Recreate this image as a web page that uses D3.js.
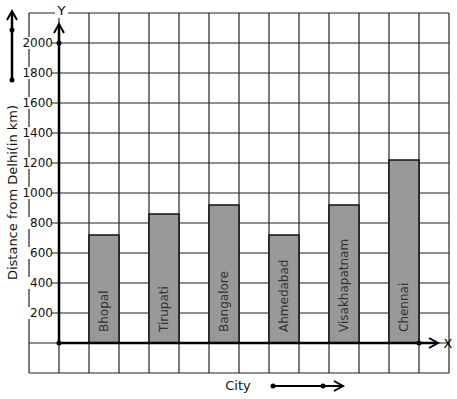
<!DOCTYPE html>
<html>
<head>
<meta charset="utf-8">
<script src="https://cdn.jsdelivr.net/npm/d3@7"></script>
<style>
  html, body { margin: 0; padding: 0; background: #fff; }
  svg { display: block; font-family: "DejaVu Sans", sans-serif; }
</style>
</head>
<body>
<svg id="chart" width="457" height="399"></svg>
<script>
const cities = ['Bhopal', 'Tirupati', 'Bangalore', 'Ahmedabad', 'Visakhapatnam', 'Chennai'];
const distances = [720, 860, 920, 720, 920, 1220];
const yTicks = [200, 400, 600, 800, 1000, 1200, 1400, 1600, 1800, 2000];

const svg = d3.select('#chart');
const gridLeft = 29, gridRight = 449, gridTop = 13, gridBottom = 373;
const axisWidth = 2.5;

// one grid cell = 30px; y axis sits one cell in from the left
const col = d3.scaleLinear().domain([0, 14]).range([gridLeft, gridRight]);
const y = d3.scaleLinear().domain([0, 2000]).range([343, 43]);
const x = d3.scaleBand().domain(cities).range([col(2), col(13)])
  .paddingInner(0.5).paddingOuter(0);

const x0 = col(1), y0 = y(0);

// grid
const grid = svg.append('g').attr('stroke', '#222').attr('stroke-width', 1.2);
grid.selectAll('line.v').data(d3.range(0, 15)).join('line')
  .attr('class', 'v')
  .attr('x1', d => col(d)).attr('x2', d => col(d))
  .attr('y1', gridTop).attr('y2', gridBottom);
grid.selectAll('line.h').data(d3.range(-200, 2201, 200)).join('line')
  .attr('class', 'h')
  .attr('x1', gridLeft).attr('x2', gridRight)
  .attr('y1', d => y(d)).attr('y2', d => y(d));

// bars
const bars = svg.append('g');
bars.selectAll('rect').data(cities).join('rect')
  .attr('x', d => x(d))
  .attr('y', (d, i) => y(distances[i]))
  .attr('width', x.bandwidth())
  .attr('height', (d, i) => y0 - y(distances[i]))
  .attr('fill', '#999')
  .attr('stroke', '#111')
  .attr('stroke-width', 1.5);

bars.selectAll('text').data(cities).join('text')
  .attr('transform', d => `translate(${x(d) + x.bandwidth() / 2 + 4},${y0 - 11}) rotate(-90)`)
  .attr('font-size', 12)
  .attr('fill', '#333')
  .text(d => d);

// y tick labels with white background
const tickG = svg.append('g');
const tick = tickG.selectAll('g').data(yTicks).join('g')
  .attr('transform', d => `translate(53,${y(d)})`);
tick.append('rect')
  .attr('x', -31).attr('y', -6).attr('width', 30).attr('height', 12)
  .attr('fill', '#fff');
tick.append('text')
  .attr('text-anchor', 'end')
  .attr('dy', '0.36em')
  .attr('font-size', 12)
  .attr('fill', '#111')
  .text(d => d);

// axes
function chevron(g, px, py, dir, w, h) {
  const pts = dir === 'up'
    ? [[px - w, py + h], [px, py], [px + w, py + h]]
    : [[px - h, py - w], [px, py], [px - h, py + w]];
  g.append('path')
    .attr('d', d3.line()(pts))
    .attr('fill', 'none')
    .attr('stroke', '#000')
    .attr('stroke-width', 2);
}

const axes = svg.append('g');
axes.append('line')
  .attr('x1', x0).attr('x2', x0).attr('y1', y0).attr('y2', 25)
  .attr('stroke', '#000').attr('stroke-width', axisWidth);
chevron(axes, x0, 24, 'up', 5, 9);
axes.append('line')
  .attr('x1', x0).attr('x2', 437).attr('y1', y0).attr('y2', y0)
  .attr('stroke', '#000').attr('stroke-width', axisWidth);
chevron(axes, 438, y0, 'right', 5, 9);

axes.selectAll('circle').data([[x0, y0], [x0, y(2000)], [col(13), y0]]).join('circle')
  .attr('cx', d => d[0]).attr('cy', d => d[1]).attr('r', 2.5).attr('fill', '#000');

// axis letters
axes.append('rect').attr('x', 55).attr('y', 4).attr('width', 13).attr('height', 14).attr('fill', '#fff');
axes.append('text').attr('x', 61.5).attr('y', 15).attr('text-anchor', 'middle')
  .attr('font-size', 13).text('Y');
axes.append('text').attr('x', 448).attr('y', y0).attr('dy', '0.36em').attr('text-anchor', 'middle')
  .attr('font-size', 13).text('X');

// axis titles
svg.append('text')
  .attr('transform', `translate(17,${(285 + 100) / 2}) rotate(-90)`)
  .attr('text-anchor', 'middle')
  .attr('font-size', 13)
  .attr('fill', '#111')
  .text('Distance from Delhi(in km)');
svg.append('text')
  .attr('x', 238).attr('y', 390)
  .attr('text-anchor', 'middle')
  .attr('font-size', 13)
  .attr('fill', '#111')
  .text('City');

// direction arrows
const deco = svg.append('g');
deco.append('line').attr('x1', 12).attr('x2', 12).attr('y1', 80).attr('y2', 12)
  .attr('stroke', '#000').attr('stroke-width', axisWidth);
chevron(deco, 12, 11, 'up', 5, 9);
deco.append('line').attr('x1', 273).attr('x2', 342).attr('y1', 386).attr('y2', 386)
  .attr('stroke', '#000').attr('stroke-width', 2);
chevron(deco, 343, 386, 'right', 5, 9);
deco.selectAll('circle').data([[12, 30], [12, 80], [273, 386], [323, 386]]).join('circle')
  .attr('cx', d => d[0]).attr('cy', d => d[1]).attr('r', 2.5).attr('fill', '#000');
</script>
</body>
</html>
